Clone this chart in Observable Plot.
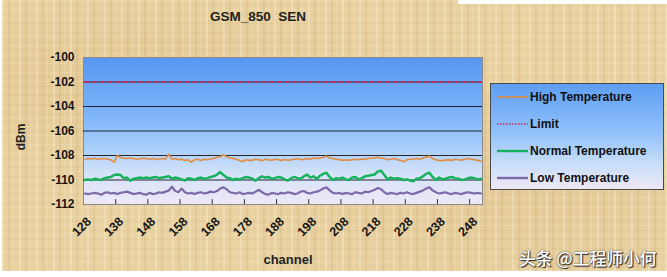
<!DOCTYPE html>
<html><head><meta charset="utf-8">
<script src="https://cdn.jsdelivr.net/npm/d3@7"></script>
<script src="https://cdn.jsdelivr.net/npm/@observablehq/plot@0.6"></script>
<style>
html,body{margin:0;padding:0;background:#fff;}
#page{position:relative;width:667px;height:277px;overflow:hidden;background:#fff;font-family:"Liberation Sans",Arial,sans-serif;}
#paper{position:absolute;left:2px;top:0;width:665px;height:271px;
 background-color:#e9d2a2;
 background-image:
  repeating-linear-gradient(90deg, rgba(255,248,225,0.28) 0 2px, transparent 2px 6px, rgba(160,120,60,0.10) 6px 8px, transparent 8px 11px, rgba(255,245,215,0.18) 11px 12px, transparent 12px 17px),
  repeating-linear-gradient(0deg, rgba(255,250,230,0.14) 0 1px, transparent 1px 4px, rgba(150,110,50,0.06) 4px 5px, transparent 5px 9px),
  radial-gradient(ellipse at 20% 30%, rgba(200,160,90,0.18), transparent 40%),
  radial-gradient(ellipse at 75% 70%, rgba(200,160,90,0.15), transparent 45%);}
#topwhite{position:absolute;left:458px;top:0;width:209px;height:4px;background:#fff;}
#chart{position:absolute;left:0;top:0;}
.title{position:absolute;left:258px;top:9px;transform:translateX(-50%);font-weight:bold;font-size:13.5px;color:#222;white-space:pre;}
.ylab{position:absolute;left:21px;top:137px;transform:translate(-50%,-50%) rotate(-90deg);font-weight:bold;font-size:12px;color:#222;}
.xlab{position:absolute;left:288px;top:252px;transform:translateX(-50%);font-weight:bold;font-size:13px;color:#222;}
#legend{position:absolute;left:490px;top:83px;width:174px;height:107px;border:1px solid #4a4a4a;box-sizing:border-box;
 background:linear-gradient(180deg,#5d9ef4 0%,#8fc0fa 45%,#c6ddf8 75%,#eee8f5 100%);}
.li{position:absolute;left:6px;height:14px;display:flex;align-items:center;font-weight:bold;font-size:12px;color:#111;white-space:nowrap;}
.li svg{margin-right:2px;}
.wm{position:absolute;left:519px;top:246px;font-family:"Noto Sans CJK SC",sans-serif;font-size:16.8px;font-weight:500;color:#fff;text-shadow:0 0 2px #333,1px 1px 1px #222;white-space:nowrap;}
</style></head>
<body>
<div id="page">
 <div id="paper"></div>
 <div id="topwhite"></div>
 <div id="chart"></div>
 <div class="title" id="title"></div>
 <div class="ylab" id="ylab"></div>
 <div class="xlab" id="xlab"></div>
 <div id="legend"></div>
 <div class="wm" id="wm"></div>
</div>
<script>
const titleText = "GSM_850  SEN";
const yLabel = "dBm";
const xLabel = "channel";
const watermark = "头条 @工程师小何";

const channels = d3.range(128, 252);
const xTickLabels = [128,138,148,158,168,178,188,198,208,218,228,238,248];
const xTickMarks = [137.5,147.5,157.5,167.5,177.5,187.5,197.5,207.5,217.5,227.5,237.5,247.5];
const yTicks = [-100,-102,-104,-106,-108,-110,-112];
const gridLines = [-102,-104,-106,-108,-110];
const limitValue = -102;

const seriesNames = ["High Temperature","Limit","Normal Temperature","Low Temperature"];
const seriesColors = ["#e38b3d","#cc2a55","#17b25c","#7d69a8"];

const highTemp = [
-108.30,-108.25,-108.28,-108.22,-108.30,-108.27,-108.25,-108.30,-108.35,-108.55,
-108.00,-108.15,-108.22,-108.25,-108.20,-108.25,-108.30,-108.27,-108.22,-108.25,
-108.30,-108.25,-108.32,-108.28,-108.25,-108.30,-107.90,-108.30,-108.25,-108.35,
-108.30,-108.40,-108.35,-108.55,-108.35,-108.30,-108.40,-108.30,-108.35,-108.28,
-108.25,-108.15,-108.10,-107.95,-108.10,-108.20,-108.25,-108.30,-108.40,-108.50,
-108.35,-108.40,-108.38,-108.30,-108.35,-108.42,-108.30,-108.35,-108.38,-108.30,
-108.35,-108.40,-108.32,-108.38,-108.35,-108.30,-108.25,-108.35,-108.30,-108.25,
-108.30,-108.20,-108.25,-108.20,-108.15,-108.05,-108.20,-108.25,-108.30,-108.35,
-108.40,-108.35,-108.40,-108.35,-108.30,-108.35,-108.28,-108.30,-108.25,-108.20,
-108.20,-108.15,-108.20,-108.25,-108.35,-108.30,-108.25,-108.35,-108.40,-108.50,
-108.35,-108.30,-108.28,-108.25,-108.30,-108.20,-108.15,-108.05,-108.25,-108.35,
-108.40,-108.42,-108.38,-108.35,-108.40,-108.30,-108.35,-108.38,-108.30,-108.25,
-108.30,-108.35,-108.40,-108.45];

const normalTemp = [
-110.00,-109.95,-110.00,-109.90,-109.95,-110.00,-109.85,-109.80,-109.75,-109.60,
-109.55,-109.60,-109.85,-109.80,-110.05,-109.90,-109.85,-109.80,-109.85,-109.80,
-109.85,-109.80,-109.75,-109.85,-109.80,-109.75,-109.70,-109.90,-109.80,-109.85,
-109.95,-110.05,-109.85,-109.90,-110.00,-109.85,-109.80,-109.90,-109.85,-109.75,
-109.70,-109.55,-109.35,-109.60,-109.80,-109.85,-110.00,-109.90,-109.95,-109.85,
-109.75,-109.80,-109.90,-110.05,-109.85,-109.70,-109.80,-109.75,-109.90,-109.85,
-109.75,-109.80,-109.95,-110.05,-109.85,-109.75,-109.85,-109.90,-109.70,-109.55,
-109.80,-109.70,-109.90,-109.65,-109.50,-109.40,-109.75,-110.00,-109.85,-109.90,
-109.80,-109.95,-110.00,-109.80,-109.75,-109.95,-109.85,-109.70,-109.65,-109.60,
-109.55,-109.30,-109.25,-109.60,-109.95,-109.80,-109.90,-109.85,-109.90,-110.00,
-109.95,-110.05,-110.10,-109.90,-109.85,-109.70,-109.50,-109.40,-109.75,-110.00,
-109.80,-109.95,-109.90,-109.80,-109.75,-109.85,-109.90,-110.00,-109.95,-109.85,
-109.80,-109.85,-109.95,-109.90];

const lowTemp = [
-111.10,-111.15,-111.10,-111.05,-111.10,-111.20,-111.05,-111.00,-111.10,-111.05,
-111.15,-111.05,-111.00,-110.95,-111.05,-111.15,-111.10,-111.05,-111.15,-111.20,
-111.05,-111.15,-111.10,-111.00,-111.05,-110.95,-110.85,-110.55,-110.90,-111.00,
-110.70,-111.00,-111.10,-111.05,-111.15,-111.05,-111.00,-111.10,-111.05,-110.95,
-111.00,-110.90,-110.70,-110.60,-110.75,-111.00,-111.05,-111.10,-111.00,-111.15,
-111.10,-111.05,-111.10,-110.95,-110.80,-111.00,-111.15,-111.20,-111.05,-111.10,
-111.15,-111.05,-111.10,-111.00,-111.05,-111.15,-111.10,-110.95,-110.90,-111.05,
-111.10,-111.00,-110.95,-110.85,-110.70,-110.60,-110.85,-111.05,-111.10,-111.05,
-111.15,-111.05,-111.10,-111.15,-111.00,-111.05,-111.10,-110.95,-111.00,-110.90,
-110.80,-110.65,-110.75,-111.00,-111.15,-111.05,-111.10,-111.15,-111.05,-111.10,
-111.00,-111.10,-111.15,-111.05,-110.95,-110.85,-110.70,-110.60,-110.85,-111.00,
-111.10,-111.05,-111.00,-111.10,-111.15,-111.05,-111.10,-111.15,-111.05,-111.00,
-111.05,-111.10,-111.05,-111.10];

document.getElementById("title").textContent = titleText;
document.getElementById("ylab").textContent = yLabel;
document.getElementById("xlab").textContent = xLabel;
document.getElementById("wm").textContent = watermark;

const chart = Plot.plot({
  width: 667, height: 277,
  marginLeft: 83, marginRight: 185, marginTop: 57, marginBottom: 73,
  style: {background: "transparent", color: "#151515", fontFamily: "'Liberation Sans', Arial, sans-serif", overflow: "visible"},
  x: {domain: [127.5, 251.5]},
  y: {domain: [-112, -100]},
  marks: [
    Plot.frame({fill: "url(#plotGrad)", stroke: "#8a8a8a", strokeWidth: 1}),
    Plot.gridY(gridLines, {stroke: "#1b1b2a", strokeOpacity: 0.95, strokeWidth: 1}),
    Plot.ruleY([limitValue], {stroke: seriesColors[1], strokeWidth: 1.8, strokeDasharray: "1.5,1.2"}),
    Plot.lineY(lowTemp, {x: channels, stroke: seriesColors[3], strokeWidth: 2.2}),
    Plot.lineY(normalTemp, {x: channels, stroke: seriesColors[2], strokeWidth: 2.5}),
    Plot.lineY(highTemp, {x: channels, stroke: seriesColors[0], strokeWidth: 1.6}),
    Plot.ruleX(xTickMarks, {y1: -112, y2: -111.6, stroke: "#333", strokeWidth: 1}),
    Plot.axisY(yTicks, {tickSize: 0, tickPadding: 9, fontWeight: "bold", fontSize: 12, label: null, tickFormat: d => String(d)}),
    Plot.axisX(xTickLabels, {tickSize: 0, tickPadding: 15, tickRotate: -45, dx: 4, fontWeight: "bold", fontSize: 12.5, label: null, tickFormat: d => String(d)})
  ]
});
const ns = "http://www.w3.org/2000/svg";
const defs = document.createElementNS(ns, "defs");
defs.innerHTML = `<linearGradient id="plotGrad" x1="0" y1="0" x2="0" y2="1">
 <stop offset="0%" stop-color="#5597f2"/>
 <stop offset="40%" stop-color="#80b6fa"/>
 <stop offset="62%" stop-color="#a9cffb"/>
 <stop offset="80%" stop-color="#d6e3f8"/>
 <stop offset="100%" stop-color="#efe8f6"/>
</linearGradient>`;
chart.insertBefore(defs, chart.firstChild);
document.getElementById("chart").appendChild(chart);

// legend
const legend = document.getElementById("legend");
const rowsY = [6, 33, 60, 87];
seriesNames.forEach((name, i) => {
  const div = document.createElement("div");
  div.className = "li";
  div.style.top = rowsY[i] + "px";
  const dash = i === 1 ? 'stroke-dasharray="1.5,1.5"' : "";
  const sw = i === 0 ? 1.6 : i === 1 ? 1.5 : 2.4;
  div.innerHTML = `<svg width="31" height="14"><line x1="0" y1="7" x2="31" y2="7" stroke="${seriesColors[i]}" stroke-width="${sw}" ${dash}/></svg>`;
  const span = document.createElement("span");
  span.textContent = name;
  div.appendChild(span);
  legend.appendChild(div);
});
</script>
</body></html>
